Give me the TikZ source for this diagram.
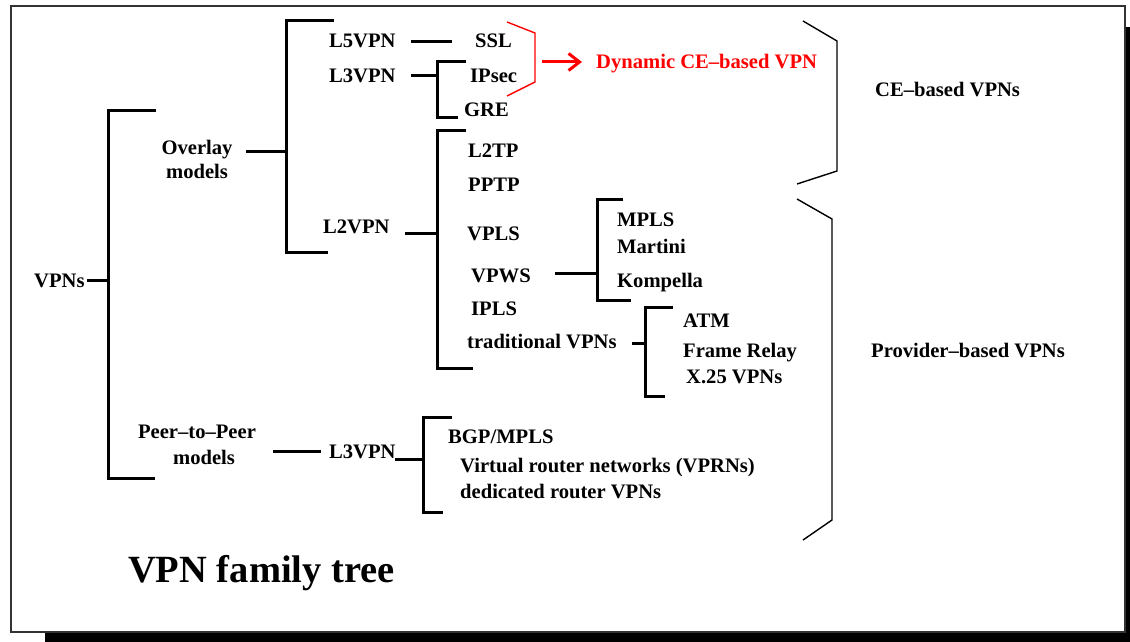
\documentclass[tikz,border=0pt]{standalone}
\usepackage{fontspec}
\setmainfont{Liberation Serif}
\usetikzlibrary{arrows.meta}
\begin{document}
\begin{tikzpicture}[x=1pt,y=-1pt,
  lbl/.style={anchor=base west,inner sep=0pt,font=\fontsize{20.6}{24}\selectfont\bfseries},
  lblc/.style={anchor=base,inner sep=0pt,align=center,font=\fontsize{20.6}{24}\selectfont\bfseries},
  tree/.style={line width=3pt},
  brace/.style={line width=1.4pt,line join=miter},
]
\useasboundingbox (0,0) rectangle (1130,642);
% frame with shadow
\fill[black] (45,27) rectangle (1130,642);
\draw[fill=white,line width=1.2pt,draw=black!80] (11,6) rectangle (1125,632);

% labels
\node[lbl] (vpns) at (34,287) {VPNs};
\node[lblc] (overlay) at (197,178) {Overlay\\models};
\node[lblc] (peer) at (197,464) {Peer--to--Peer\\[2pt]\hspace*{14pt}models};
\node[lbl] (l5) at (329,48) {L5VPN};
\node[lbl] (l3a) at (329,83) {L3VPN};
\node[lbl] (l2) at (323,233) {L2VPN};
\node[lbl] (ssl) at (475,48) {SSL};
\node[lbl] (ipsec) at (470,83) {IPsec};
\node[lbl] (gre) at (464,117) {GRE};
\node[lbl,text=red] (dyn) at (596,69) {Dynamic CE--based VPN};
\node[lbl] (l2tp) at (468,157) {L2TP};
\node[lbl] (pptp) at (468,191) {PPTP};
\node[lbl] (vpls) at (467,240) {VPLS};
\node[lbl] (vpws) at (471,282) {VPWS};
\node[lbl] (ipls) at (471,315) {IPLS};
\node[lbl] (trad) at (467,348) {traditional VPNs};
\node[lbl] (mpls) at (617,226) {MPLS};
\node[lbl] (martini) at (617,253) {Martini};
\node[lbl] (kompella) at (617,287) {Kompella};
\node[lbl] (atm) at (683,327) {ATM};
\node[lbl] (frelay) at (683,357) {Frame Relay};
\node[lbl] (x25) at (686,383) {X.25 VPNs};
\node[lbl] (l3b) at (329,458) {L3VPN};
\node[lbl] (bgp) at (448,443) {BGP/MPLS};
\node[lbl] (vrn) at (460,472) {Virtual router networks (VPRNs)};
\node[lbl] (ded) at (460,498) {dedicated router VPNs};
\node[lbl] (ce) at (875,96) {CE--based VPNs};
\node[lbl] (prov) at (871,357) {Provider--based VPNs};
\node[anchor=base west,inner sep=0pt,font=\fontsize{38.5}{44}\selectfont\bfseries] (title) at (128,582) {VPN family tree};

% bracket spines
\coordinate (sA) at (108,280);
\coordinate (sB) at (286,151);
\coordinate (sC) at (437,76);
\coordinate (sD) at (437,233);
\coordinate (sE) at (597,273);
\coordinate (sF) at (645,343);
\coordinate (sG) at (423,459);

% level 0
\draw[tree] ([xshift=2.5pt]vpns.east |- sA) -- (sA);
\draw[tree] (156,110) -| (sA) |- (155,478);
% overlay
\draw[tree] (246,151) -- (sB);
\draw[tree] (334,21) -| (sB) |- (328,252);
% L5VPN
\draw[tree] (411,42) -- (452,42);
% L3VPN (overlay)
\draw[tree] (411,76) -- (sC);
\draw[tree] (466,62) -| (sC) |- (458,117);
% L2VPN
\draw[tree] (405,233) -- (sD);
\draw[tree] (466,130) -| (sD) |- (473,368);
% VPWS
\draw[tree] (555,273) -- (sE);
\draw[tree] (623,199) -| (sE) |- (631,300);
% traditional
\draw[tree] (632,343) -- (sF);
\draw[tree] (673,307) -| (sF) |- (665,396);
% peer-to-peer
\draw[tree] (273,451) -- (321,451);
\draw[tree] (395,459) -- (sG);
\draw[tree] (452,417) -| (sG) |- (443,512);

% red group and arrow
\draw[red,brace] (507,22) -- (535,33) -- (535,82) -- (507,96);
\coordinate (arrS) at (542,62);
\coordinate (arrE) at (582,62);
\draw[red,line width=3pt,-{Straight Barb[length=11pt,width=17pt]}] (arrS) -- (arrE);
% CE-based and provider-based braces
\draw[brace] (803,21) -- (837,41) -- (837,171) -- (797,184);
\draw[brace] (797,199) -- (832,219) -- (832,520) -- (803,540);
\end{tikzpicture}
\end{document}
